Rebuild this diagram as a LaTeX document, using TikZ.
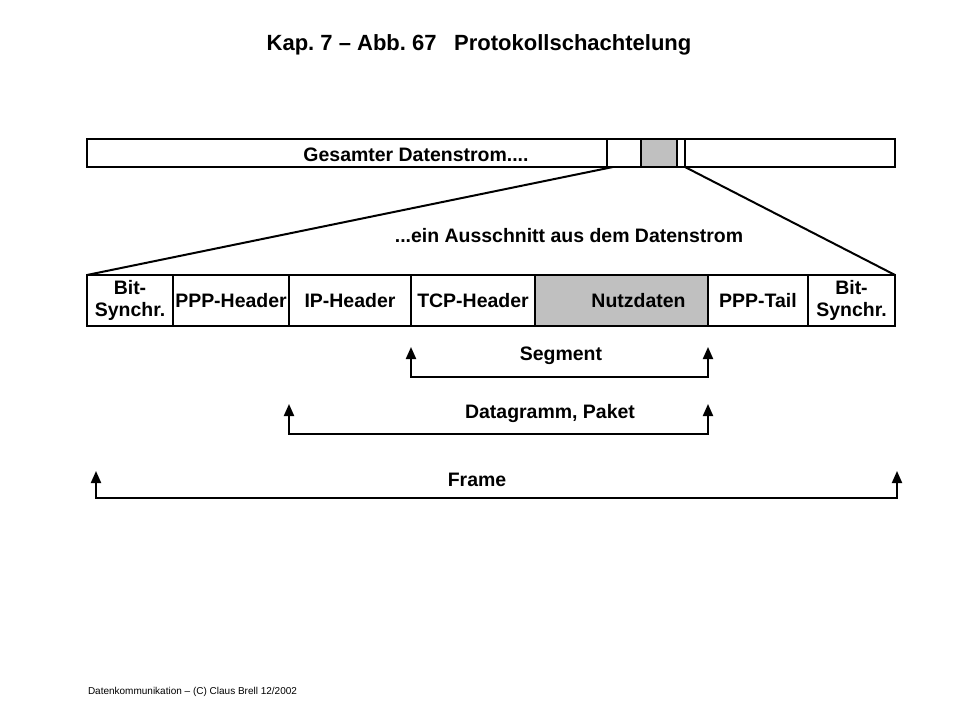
\documentclass[tikz,border=0pt]{standalone}
\usepackage{fontspec}
\setmainfont{Liberation Sans}
\frenchspacing
\usetikzlibrary{arrows.meta,positioning}
\definecolor{protoGray}{HTML}{C0C0C0}
\newcommand{\ProtoPx}{0.75pt}
\tikzset{
  proto diagram/.style={
    x=0.75pt, y=-0.75pt, line width=1.5pt,
    >={Triangle[length=9pt,width=7.5pt]},
    every node/.style={font=\bfseries\fontsize{14.6}{16}\selectfont,
      text=black, inner sep=0pt, outer sep=0pt}
  },
  proto cell/.style={draw, minimum height=51*\ProtoPx, align=center},
  proto bar/.style={draw, minimum height=28*\ProtoPx, anchor=north west},
  proto bracket/.style={<->, line width=1.5pt}
}

\begin{document}
\begin{tikzpicture}[proto diagram]
  \useasboundingbox (0,0) rectangle (960,720);
  \node[font=\bfseries\fontsize{16.5}{20}\selectfont] (title) at (479,45)
    {Kap. 7 -- Abb. 67\hspace{0.8em}Protokollschachtelung};

  % Datenstrom
  \node[proto bar, minimum width=808*\ProtoPx] (strom) at (87,139) {};
  \node[proto bar, minimum width=78*\ProtoPx] (cut) at (607,139) {};
  \node[proto bar, minimum width=36*\ProtoPx, fill=protoGray] (cutGray) at (641,139) {};
  \node (stromText) at (416,155) {Gesamter Datenstrom....};
  \node (cutText) at (569,236) {...ein Ausschnitt aus dem Datenstrom};

  % Rahmen
  \node[proto cell, minimum width=86*\ProtoPx, anchor=north west] (bitL) at (87,275) {Bit-\\Synchr.};
  \node[proto cell, minimum width=116*\ProtoPx, right=0pt of bitL] (ppph) {PPP-Header};
  \node[proto cell, minimum width=122*\ProtoPx, right=0pt of ppph] (iph) {IP-Header};
  \node[proto cell, minimum width=124*\ProtoPx, right=0pt of iph] (tcph) {TCP-Header};
  \node[proto cell, minimum width=173*\ProtoPx, right=0pt of tcph, fill=protoGray] (nutz) {};
  \node[proto cell, minimum width=100*\ProtoPx, right=0pt of nutz] (pppt) {PPP-Tail};
  \node[proto cell, minimum width=87*\ProtoPx, right=0pt of pppt] (bitR) {Bit-\\Synchr.};
  \node (nutzText) at ([xshift=17*\ProtoPx]nutz.center) {Nutzdaten};

  \draw ([xshift=6*\ProtoPx]cut.south west) -- (bitL.north west);
  \draw (cut.south east) -- (bitR.north east);

  % Klammern
  \coordinate (segTipL) at (411,347);
  \coordinate (segL) at (411,377);
  \coordinate (segR) at (708,377);
  \coordinate (segTipR) at (708,347);
  \draw[proto bracket] (segTipL) -- (segL) -- (segR) -- (segTipR);
  \node (segText) at (561,356) {Segment};

  \coordinate (dgTipL) at (289,404);
  \coordinate (dgL) at (289,434);
  \coordinate (dgR) at (708,434);
  \coordinate (dgTipR) at (708,404);
  \draw[proto bracket] (dgTipL) -- (dgL) -- (dgR) -- (dgTipR);
  \node (dgText) at (550,414) {Datagramm, Paket};

  \coordinate (frTipL) at (96,471);
  \coordinate (frL) at (96,498);
  \coordinate (frR) at (897,498);
  \coordinate (frTipR) at (897,471);
  \draw[proto bracket] (frTipL) -- (frL) -- (frR) -- (frTipR);
  \node (frText) at (477,480) {Frame};

  \node[font=\fontsize{7.5}{9}\selectfont, anchor=west] (footer) at (88,692)
    {Datenkommunikation -- (C) Claus Brell 12/2002};
\end{tikzpicture}
\end{document}
